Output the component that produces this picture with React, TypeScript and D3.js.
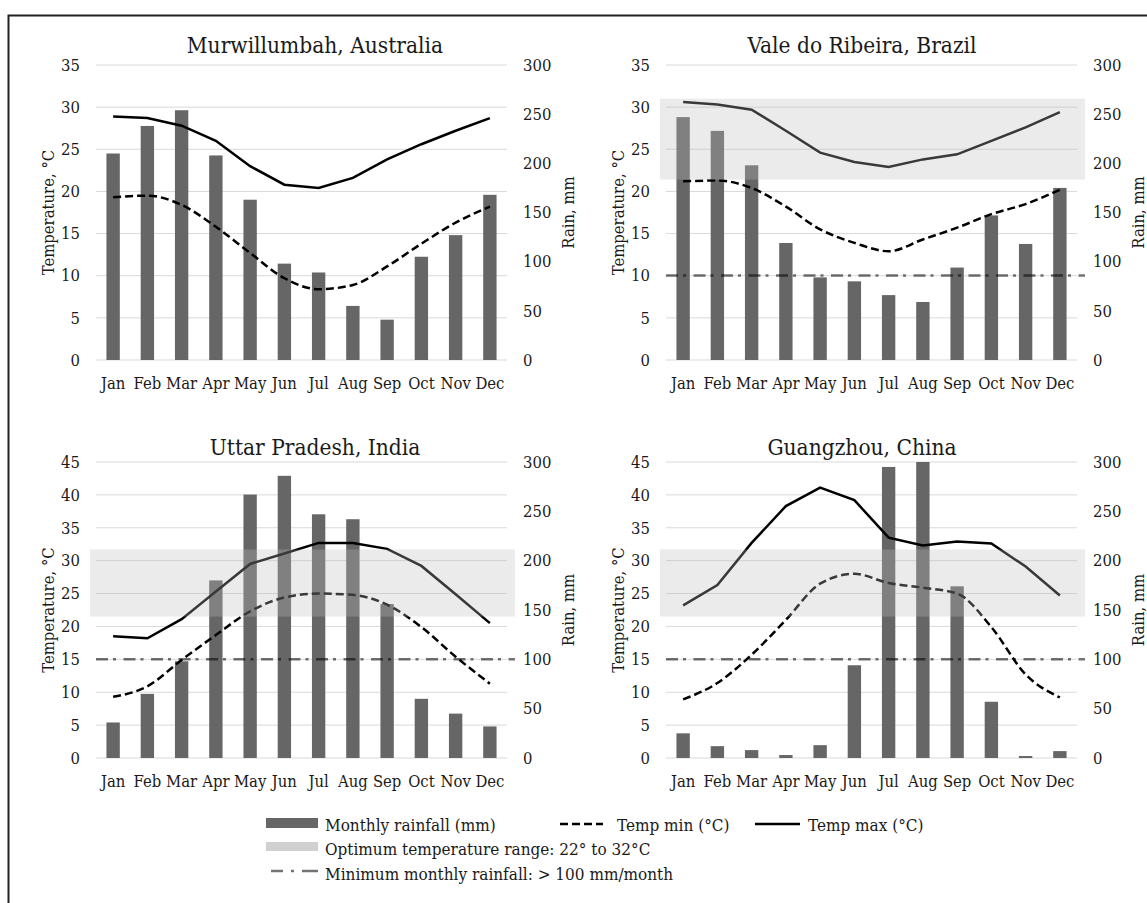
import * as d3 from 'd3';
import React, { useEffect, useRef } from 'react';

// --- data ---
const months = ['Jan', 'Feb', 'Mar', 'Apr', 'May', 'Jun', 'Jul', 'Aug', 'Sep', 'Oct', 'Nov', 'Dec'];
const places = ['Murwillumbah, Australia', 'Vale do Ribeira, Brazil', 'Uttar Pradesh, India', 'Guangzhou, China'];

const rainAustralia = [210, 238, 254, 208, 163, 98, 89, 55, 41, 105, 127, 168];
const tmaxAustralia = [28.9, 28.7, 27.8, 26.0, 23.0, 20.8, 20.4, 21.6, 23.8, 25.6, 27.2, 28.7];
const tminAustralia = [19.3, 19.5, 18.4, 15.8, 12.7, 9.7, 8.4, 8.9, 11.1, 13.8, 16.3, 18.2];

const rainBrazil = [247, 233, 198, 119, 84, 80, 66, 59, 94, 147, 118, 175];
const tmaxBrazil = [30.6, 30.3, 29.7, 27.2, 24.6, 23.5, 22.9, 23.8, 24.4, 26.0, 27.6, 29.4];
const tminBrazil = [21.2, 21.3, 20.4, 18.2, 15.5, 13.9, 12.9, 14.3, 15.7, 17.3, 18.5, 20.2];

const rainIndia = [36, 65, 98, 180, 267, 286, 247, 242, 156, 60, 45, 32];
const tmaxIndia = [18.5, 18.2, 21.1, 25.3, 29.5, 31.1, 32.7, 32.7, 31.8, 29.2, 24.9, 20.5];
const tminIndia = [9.3, 10.9, 14.9, 18.7, 22.3, 24.4, 25.0, 24.8, 23.3, 19.9, 15.4, 11.3];

const rainChina = [25, 12, 8, 3, 13, 94, 295, 300, 174, 57, 2, 7];
const tmaxChina = [23.2, 26.3, 32.7, 38.3, 41.1, 39.2, 33.5, 32.3, 32.9, 32.6, 29.1, 24.7];
const tminChina = [8.9, 11.4, 15.7, 21.0, 26.5, 28.0, 26.6, 25.9, 25.0, 19.9, 12.7, 9.2];

const tempTicksTop = [0, 5, 10, 15, 20, 25, 30, 35];
const tempTicksBottom = [0, 5, 10, 15, 20, 25, 30, 35, 40, 45];
const rainTicks = [0, 50, 100, 150, 200, 250, 300];

// optimum band (°C) and minimum rainfall line (mm) as drawn in each panel
const optimumBands = [null, [21.4, 31.0], [21.5, 31.7], [21.5, 31.7]];
const minRainLines = [null, 86, 100, 100];

const legendRain = 'Monthly rainfall (mm)';
const legendMin = 'Temp min (°C)';
const legendMax = 'Temp max (°C)';
const legendBand = 'Optimum temperature range: 22° to 32°C';
const legendDashDot = 'Minimum monthly rainfall: > 100 mm/month';

const FONT = '"DejaVu Serif Condensed", "Liberation Serif", serif';
const BAR = '#666666';
const INK = '#1a1a1a';

const layout = [
  { left: 96, right: 507, top: 65, bottom: 360, titleX: 315, titleY: 53 },
  { left: 666, right: 1077, top: 65, bottom: 360, titleX: 862, titleY: 53 },
  { left: 96, right: 507, top: 462, bottom: 758, titleX: 315, titleY: 455 },
  { left: 666, right: 1077, top: 462, bottom: 758, titleX: 862, titleY: 455 },
];

const series = [
  { rain: rainAustralia, tmax: tmaxAustralia, tmin: tminAustralia, ticks: tempTicksTop },
  { rain: rainBrazil, tmax: tmaxBrazil, tmin: tminBrazil, ticks: tempTicksTop },
  { rain: rainIndia, tmax: tmaxIndia, tmin: tminIndia, ticks: tempTicksBottom },
  { rain: rainChina, tmax: tmaxChina, tmin: tminChina, ticks: tempTicksBottom },
];

function drawPanel(svg: any, i: number) {
  const p = layout[i];
  const s = series[i];
  const g = svg.append('g');

  const x = d3.scaleBand<string>()
    .domain(months)
    .range([p.left, p.right])
    .paddingInner(0.61)
    .paddingOuter(0.305);
  const cx = (m: string) => (x(m) as number) + x.bandwidth() / 2;

  const yT = d3.scaleLinear()
    .domain([0, s.ticks[s.ticks.length - 1]])
    .range([p.bottom, p.top]);
  const yR = d3.scaleLinear()
    .domain([0, 300])
    .range([p.bottom, p.top]);

  // gridlines
  g.selectAll('.grid')
    .data(s.ticks)
    .enter()
    .append('line')
    .attr('x1', p.left)
    .attr('x2', p.right)
    .attr('y1', (d: number) => yT(d))
    .attr('y2', (d: number) => yT(d))
    .attr('stroke', '#d9d9d9')
    .attr('stroke-width', 1);

  // rainfall bars
  g.selectAll('.bar')
    .data(s.rain)
    .enter()
    .append('rect')
    .attr('x', (d: number, k: number) => x(months[k]) as number)
    .attr('width', x.bandwidth())
    .attr('y', (d: number) => yR(d))
    .attr('height', (d: number) => p.bottom - yR(d))
    .attr('fill', BAR);

  // minimum rainfall line
  const mr = minRainLines[i];
  if (mr !== null) {
    g.append('line')
      .attr('x1', p.left)
      .attr('x2', p.right + 8)
      .attr('y1', yR(mr))
      .attr('y2', yR(mr))
      .attr('stroke', '#000')
      .attr('stroke-opacity', 0.55)
      .attr('stroke-width', 2.5)
      .attr('stroke-dasharray', '12,5,3,7.5');
  }

  const line = d3.line<number>()
    .x((d, k) => cx(months[k]))
    .y(d => yT(d));

  g.append('path')
    .datum(s.tmax)
    .attr('d', line.curve(d3.curveLinear))
    .attr('fill', 'none')
    .attr('stroke', '#000')
    .attr('stroke-width', 2.5);

  g.append('path')
    .datum(s.tmin)
    .attr('d', line.curve(d3.curveMonotoneX))
    .attr('fill', 'none')
    .attr('stroke', '#000')
    .attr('stroke-width', 2.5)
    .attr('stroke-dasharray', '8,4');

  // optimum temperature band sits over bars and lines
  const band = optimumBands[i];
  if (band !== null) {
    g.append('rect')
      .attr('x', p.left - 6)
      .attr('width', p.right - p.left + 14)
      .attr('y', yT(band[1]))
      .attr('height', yT(band[0]) - yT(band[1]))
      .attr('fill', '#bdbdbd')
      .attr('fill-opacity', 0.3);
  }

  // left tick labels
  g.selectAll('.tl')
    .data(s.ticks)
    .enter()
    .append('text')
    .attr('x', p.left - 16)
    .attr('y', (d: number) => yT(d))
    .attr('dy', '0.35em')
    .attr('text-anchor', 'end')
    .text((d: number) => d);

  // right tick labels
  g.selectAll('.tr')
    .data(rainTicks)
    .enter()
    .append('text')
    .attr('x', p.right + 16)
    .attr('y', (d: number) => yR(d))
    .attr('dy', '0.35em')
    .attr('text-anchor', 'start')
    .text((d: number) => d);

  // month labels
  g.selectAll('.mo')
    .data(months)
    .enter()
    .append('text')
    .attr('x', (d: string) => cx(d))
    .attr('y', p.bottom + 29)
    .attr('text-anchor', 'middle')
    .text((d: string) => d);

  const midY = (p.top + p.bottom) / 2;
  g.append('text')
    .attr('transform', `translate(${p.left - 48},${midY}) rotate(-90)`)
    .attr('dy', '0.35em')
    .attr('text-anchor', 'middle')
    .text('Temperature, °C');
  g.append('text')
    .attr('transform', `translate(${p.right + 61},${midY}) rotate(-90)`)
    .attr('dy', '0.35em')
    .attr('text-anchor', 'middle')
    .text('Rain, mm');

  g.append('text')
    .attr('x', p.titleX)
    .attr('y', p.titleY)
    .attr('text-anchor', 'middle')
    .attr('font-size', 22.5)
    .text(places[i]);
}

function drawLegend(svg: any) {
  const g = svg.append('g').attr('font-size', 17);

  // row 1
  g.append('rect').attr('x', 266).attr('y', 818).attr('width', 52).attr('height', 10).attr('fill', BAR);
  g.append('text').attr('x', 325).attr('y', 825).attr('dy', '0.35em').text(legendRain);
  g.append('line').attr('x1', 560).attr('x2', 603).attr('y1', 824).attr('y2', 824)
    .attr('stroke', '#000').attr('stroke-width', 2.5).attr('stroke-dasharray', '8,4');
  g.append('text').attr('x', 617).attr('y', 825).attr('dy', '0.35em').text(legendMin);
  g.append('line').attr('x1', 755).attr('x2', 800).attr('y1', 824).attr('y2', 824)
    .attr('stroke', '#000').attr('stroke-width', 2.5);
  g.append('text').attr('x', 808).attr('y', 825).attr('dy', '0.35em').text(legendMax);

  // row 2
  g.append('rect').attr('x', 266).attr('y', 842).attr('width', 52).attr('height', 9).attr('fill', '#d0d0d0');
  g.append('text').attr('x', 325).attr('y', 849).attr('dy', '0.35em').text(legendBand);

  // row 3
  g.append('line').attr('x1', 271).attr('x2', 318).attr('y1', 871).attr('y2', 871)
    .attr('stroke', '#000').attr('stroke-opacity', 0.55).attr('stroke-width', 2.5)
    .attr('stroke-dasharray', '12,8,3,8,16');
  g.append('text').attr('x', 325).attr('y', 874).attr('dy', '0.35em').text(legendDashDot);
}

export default function App() {
  const ref = useRef<SVGSVGElement>(null);

  useEffect(() => {
    const svg = d3.select(ref.current);
    svg.selectAll('*').remove();

    svg.append('rect').attr('width', 1147).attr('height', 903).attr('fill', '#fff');
    // frame: only left and top edges are visible in the picture
    svg.append('path')
      .attr('d', 'M8.5,903 L8.5,15.5 L1147,15.5')
      .attr('fill', 'none')
      .attr('stroke', '#222')
      .attr('stroke-width', 2);

    for (let i = 0; i < 4; i++) drawPanel(svg, i);
    drawLegend(svg);
  }, []);

  return (
    <svg
      ref={ref}
      width={1147}
      height={903}
      style={{ position: 'absolute', left: 0, top: 0 }}
      fontFamily={FONT}
      fontSize={16.5}
      fill={INK}
    />
  );
}
